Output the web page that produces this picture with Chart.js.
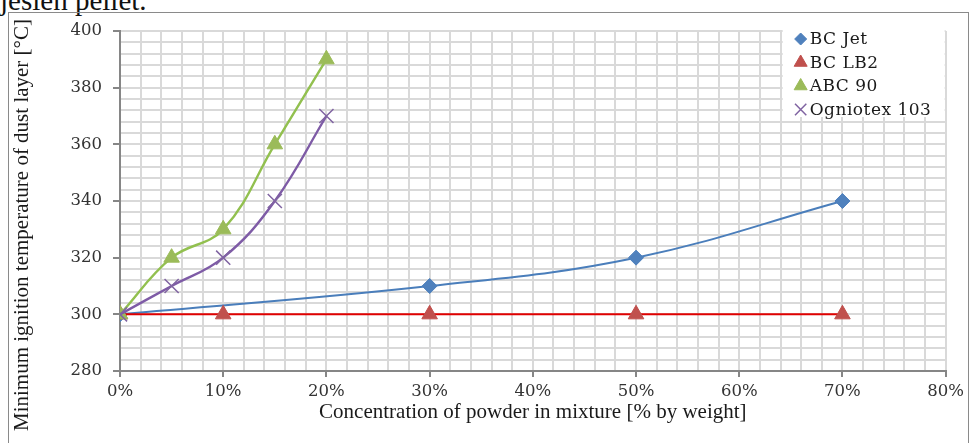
<!DOCTYPE html>
<html>
<head>
<meta charset="utf-8">
<script src="https://cdn.jsdelivr.net/npm/chart.js@4.4.1/dist/chart.umd.min.js"></script>
<style>
  body { margin: 0; background: #fff; width: 969px; height: 443px; overflow: hidden; position: relative; }
  #cap { position: absolute; left: 0; top: -14px; font: 29px/28px "Liberation Serif", serif; color: #111; white-space: nowrap; }
  #frame { position: absolute; left: 8px; top: 12px; width: 959px; height: 460px; border: 1px solid #8a8a8a; }
  #wrap { position: absolute; left: 0; top: 0; width: 969px; height: 443px; }
</style>
</head>
<body>
<div id="cap">jesień pellet.</div>
<div id="frame"></div>
<div id="wrap"><canvas id="chart"></canvas></div>
<script>
// values
const seriesNames = ['BC Jet', 'BC LB2', 'ABC 90', 'Ogniotex 103'];

const jetX = [0, 30, 50, 70];
const jetY = [300, 310, 320, 340];

const lb2X = [0, 10, 30, 50, 70];
const lb2Y = [300, 300, 300, 300, 300];

const abcX = [0, 5, 10, 15, 20];
const abcY = [300, 320, 330, 360, 390];

const ognX = [0, 5, 10, 15, 20];
const ognY = [300, 310, 320, 340, 370];

const yTicks = [280, 300, 320, 340, 360, 380, 400];
const xTicks = [0, 10, 20, 30, 40, 50, 60, 70, 80];

const yTitle = 'Minimum ignition temperature of dust layer [°C]';
const xTitle = 'Concentration of powder in mixture [% by weight]';

const pts = (xs, ys) => xs.map((x, i) => ({ x: x, y: ys[i] }));

// legend drawn as a white box in the top right of the plot
const boxLegend = {
  id: 'boxLegend',
  afterDatasetsDraw(chart) {
    const ctx = chart.ctx;
    const right = chart.chartArea.right;
    const top = chart.chartArea.top;
    ctx.save();
    ctx.fillStyle = '#fff';
    ctx.fillRect(right - 163, top - 3, 162, 89);
    ctx.font = '17px "DejaVu Serif"';
    ctx.letterSpacing = '0.5px';
    ctx.textBaseline = 'middle';
    chart.data.datasets.forEach((ds, i) => {
      const y = top + 8 + i * 23.5;
      const x = right - 145;
      ctx.fillStyle = ds.pointBackgroundColor;
      ctx.strokeStyle = ds.pointBorderColor;
      ctx.lineWidth = ds.pointBorderWidth;
      Chart.helpers.drawPoint(ctx, {
        pointStyle: ds.pointStyle,
        radius: ds.legendRadius,
        borderWidth: ds.pointBorderWidth,
        rotation: 0
      }, x, y);
      ctx.fillStyle = '#1a1a1a';
      ctx.fillText(ds.label, x + 9, y + 1);
    });
    ctx.restore();
  }
};

// vertical axis title, centred on the frame rather than the plot
const sideTitle = {
  id: 'sideTitle',
  afterDraw(chart) {
    const ctx = chart.ctx;
    ctx.save();
    ctx.translate(22, 225);
    ctx.rotate(-Math.PI / 2);
    ctx.font = '21px "Liberation Serif"';
    ctx.fillStyle = '#1a1a1a';
    ctx.textAlign = 'center';
    ctx.textBaseline = 'middle';
    ctx.fillText(yTitle, 0, 0);
    ctx.restore();
  }
};

const tickFont = { family: 'DejaVu Serif', size: 16.5 };

new Chart(document.getElementById('chart'), {
  type: 'line',
  data: {
    datasets: [
      {
        label: seriesNames[0],
        data: pts(jetX, jetY),
        borderColor: '#4a7ebb',
        borderWidth: 2,
        pointStyle: 'rectRot',
        pointRadius: 7.5,
        legendRadius: 6,
        pointBackgroundColor: '#4f81bd',
        pointBorderColor: '#4f81bd',
        pointBorderWidth: 1,
        tension: 0.4,
        order: 4
      },
      {
        label: seriesNames[1],
        data: pts(lb2X, lb2Y),
        borderColor: '#e00000',
        borderWidth: 2,
        pointStyle: 'triangle',
        pointRadius: 9,
        legendRadius: 7.5,
        pointBackgroundColor: '#c0504d',
        pointBorderColor: '#c0504d',
        pointBorderWidth: 1,
        order: 3
      },
      {
        label: seriesNames[2],
        data: pts(abcX, abcY),
        borderColor: '#92c04f',
        borderWidth: 2.4,
        pointStyle: 'triangle',
        pointRadius: 9,
        legendRadius: 7.5,
        pointBackgroundColor: '#9bbb59',
        pointBorderColor: '#9bbb59',
        pointBorderWidth: 1,
        tension: 0.4,
        order: 2
      },
      {
        label: seriesNames[3],
        data: pts(ognX, ognY),
        borderColor: '#7e5ba6',
        borderWidth: 2.4,
        pointStyle: 'crossRot',
        pointRadius: 10,
        legendRadius: 8,
        pointBackgroundColor: '#8064a2',
        pointBorderColor: '#8064a2',
        pointBorderWidth: 1.5,
        tension: 0.4,
        order: 1
      }
    ]
  },
  options: {
    responsive: true,
    maintainAspectRatio: false,
    animation: false,
    layout: { padding: { left: 0, top: 31, right: 22, bottom: 0 } },
    plugins: {
      legend: { display: false },
      tooltip: { enabled: false }
    },
    scales: {
      x: {
        type: 'linear',
        min: 0,
        max: 80,
        ticks: {
          stepSize: 2,
          autoSkip: false,
          maxRotation: 0,
          padding: 5,
          color: '#333',
          font: tickFont,
          callback: v => xTicks.includes(v) ? v + '%' : ''
        },
        grid: {
          color: '#d9d9d9',
          lineWidth: 2,
          tickLength: 6,
          tickColor: c => c.tick && xTicks.includes(c.tick.value) ? '#868686' : 'rgba(0,0,0,0)'
        },
        border: { color: '#868686', width: 2 },
        title: {
          display: true,
          text: xTitle,
          color: '#1a1a1a',
          font: { family: 'Liberation Serif', size: 21 },
          padding: { top: 0, bottom: 18 }
        },
        afterFit: s => { s.height = 72; }
      },
      y: {
        min: 280,
        max: 400,
        ticks: {
          stepSize: 4,
          autoSkip: false,
          padding: 11,
          color: '#333',
          font: tickFont,
          callback: v => yTicks.includes(v) ? v : ''
        },
        grid: {
          color: '#d9d9d9',
          lineWidth: 2,
          tickLength: 7,
          tickColor: c => c.tick && yTicks.includes(c.tick.value) ? '#868686' : 'rgba(0,0,0,0)'
        },
        border: { color: '#868686', width: 2 },
        afterFit: s => { s.width = 120; }
      }
    }
  },
  plugins: [boxLegend, sideTitle]
});
</script>
</body>
</html>
